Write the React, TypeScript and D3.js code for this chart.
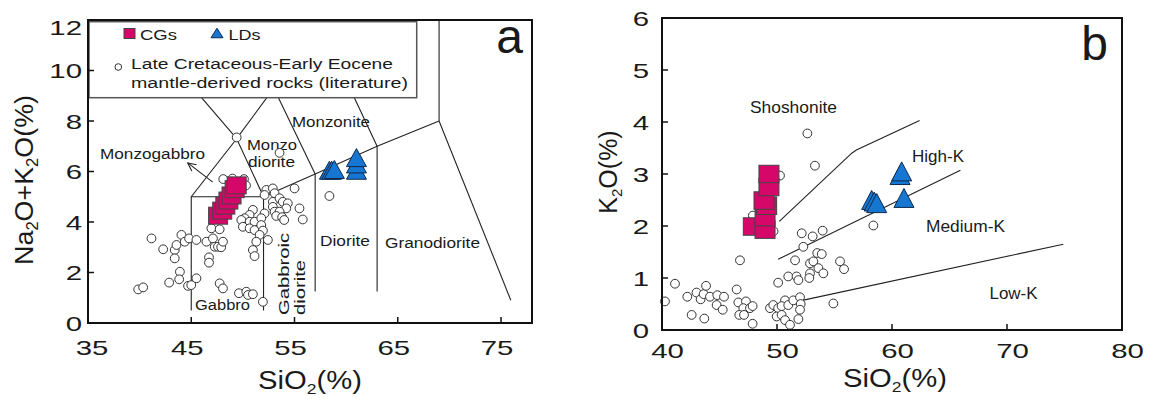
import * as d3 from 'd3';

type Pt = [number, number];

const FONT = '"Liberation Sans", Arial, Helvetica, sans-serif';
const MAGENTA = '#d5086a';
const BLUE = '#1677d2';

// ---- panel a: TAS (SiO2 vs Na2O+K2O) ----
const A_X_TICKS = [35, 45, 55, 65, 75];
const A_Y_TICKS = [0, 2, 4, 6, 8, 10, 12];

const A_LIT: Pt[] = [
  [41.15, 3.35], [42.28, 2.92], [43.4, 2.89], [43.4, 2.56], [43.57, 3.09], [44.05, 3.49],
  [44.37, 3.22], [44.79, 3.35], [45.5, 3.29], [46.47, 3.22], [47.1, 3.35], [46.95, 3.75],
  [47.75, 3.71], [47.27, 3.02], [47.59, 3.02], [47.9, 3.0], [48.07, 3.22], [46.72, 2.6],
  [46.72, 2.39], [43.9, 2.03], [43.83, 1.73], [42.86, 1.6], [44.69, 1.47], [45.0, 1.5],
  [45.5, 1.77], [39.86, 1.33], [40.34, 1.41], [47.75, 1.57], [48.07, 1.37], [49.62, 1.18],
  [50.33, 1.24], [50.5, 1.11], [50.97, 1.14], [48.1, 5.7], [49.0, 5.72], [50.1, 5.7],
  [50.3, 5.45], [53.55, 6.74], [52.27, 5.27], [52.9, 5.33], [52.1, 5.07], [53.07, 5.14],
  [55.0, 5.33], [52.9, 4.8], [53.55, 4.94], [53.87, 4.8], [54.35, 4.74], [54.2, 4.54],
  [55.48, 4.54], [55.8, 4.1], [52.9, 4.6], [53.07, 4.41], [53.55, 4.41], [53.23, 4.24],
  [53.8, 4.19], [54.0, 4.08], [52.1, 4.34], [50.97, 4.48], [50.65, 4.28], [50.17, 4.15],
  [49.85, 4.08], [50.65, 4.01], [51.13, 4.01], [51.78, 4.15], [50.0, 3.81], [50.65, 3.75],
  [51.13, 3.68], [51.78, 3.88], [51.94, 3.66], [51.62, 3.49], [52.42, 3.29], [51.3, 3.22],
  [50.97, 2.89], [51.13, 2.65], [58.38, 5.03], [51.94, 0.84], [49.4, 7.35],
];
const A_CG: Pt[] = [
  [47.6, 4.25], [48.0, 4.45], [48.3, 4.65], [48.6, 4.85], [48.9, 5.05], [49.2, 5.3], [49.4, 5.45],
];
const A_LD: Pt[] = [
  [58.38, 6.05], [58.6, 6.05], [58.86, 6.08], [61.0, 6.05], [61.0, 6.3], [61.0, 6.55],
];

const TAS_LINES: Pt[][] = [
  [[45, 0.5], [45, 5], [52, 5], [52, 0.5]],
  [[45, 5], [49.4, 7.3], [52, 5]],
  [[45, 9.4], [49.4, 7.3], [53, 9.3]],
  [[53, 9.3], [57, 5.9]],
  [[57, 1.25], [57, 5.9]],
  [[52, 5], [57, 5.9], [63, 7], [69, 8]],
  [[63, 1.25], [63, 7]],
  [[57.6, 11.7], [63, 7]],
  [[57.6, 11.7], [61, 13.5]],
  [[69, 8], [69, 12]],
  [[69, 8], [75.95, 0.9]],
];

// ---- panel b: SiO2 vs K2O ----
const B_X_TICKS = [40, 50, 60, 70, 80];
const B_Y_TICKS = [0, 1, 2, 3, 4, 5, 6];

const B_LIT: Pt[] = [
  [40.26, 0.55], [41.13, 0.89], [42.2, 0.64], [43.0, 0.72], [43.36, 0.59], [43.62, 0.69],
  [43.83, 0.85], [44.17, 0.64], [44.81, 0.67], [45.39, 0.64], [44.75, 0.48], [45.28, 0.39],
  [42.58, 0.29], [43.68, 0.22], [46.49, 0.78], [46.64, 0.53], [47.3, 0.55], [47.07, 0.42],
  [47.65, 0.42], [47.88, 0.46], [46.72, 0.29], [47.13, 0.29], [47.88, 0.12], [46.78, 1.34],
  [49.39, 0.42], [49.68, 0.48], [50.1, 0.42], [50.7, 0.57], [50.4, 0.46], [50.98, 0.48],
  [51.42, 0.57], [52.0, 0.63], [52.06, 0.5], [52.0, 0.39], [49.97, 0.26], [50.4, 0.29],
  [50.7, 0.19], [51.13, 0.1], [51.86, 0.21], [50.1, 0.91], [50.98, 1.03], [51.7, 1.03],
  [51.86, 0.96], [51.57, 1.34], [52.15, 1.86], [53.1, 1.8], [53.97, 1.91], [52.29, 1.6],
  [52.87, 1.28], [53.16, 1.32], [52.87, 1.09], [52.81, 1.0], [53.5, 1.48], [53.89, 1.46],
  [53.6, 1.19], [54.03, 1.09], [54.9, 0.51], [55.48, 1.32], [55.83, 1.17], [52.64, 3.78],
  [53.3, 3.16], [50.26, 2.97], [58.38, 2.01], [47.9, 2.2], [49.7, 1.9],
];
const B_CG: Pt[] = [
  [47.94, 1.99], [48.96, 1.93], [48.96, 2.17], [49.1, 2.39], [48.87, 2.49], [49.3, 2.75], [49.3, 3.0],
];
const B_LD: Pt[] = [
  [58.23, 2.5], [58.46, 2.47], [58.67, 2.44], [61.04, 2.54], [60.7, 2.98], [60.84, 3.05],
];

const K_LINES: Pt[][] = [
  [[50.2, 2.09], [56.5, 3.4], [56.9, 3.46], [62.4, 4.03]],
  [[50.1, 1.36], [65.95, 3.07]],
  [[52.0, 0.56], [74.9, 1.65]],
];

const xa = d3.scaleLinear().domain([35, 78]).range([88, 532]);
const ya = d3.scaleLinear().domain([0, 12]).range([323, 20]);
const xb = d3.scaleLinear().domain([40, 80]).range([662, 1122]);
const yb = d3.scaleLinear().domain([0, 6]).range([330, 18]);

function Txt(props: {
  x: number; y: number; size: number; sx?: number; rot?: number;
  anchor?: 'start' | 'middle' | 'end'; len?: number; children: React.ReactNode;
}) {
  const { x, y, size, sx = 1, rot = 0, anchor = 'start', len, children } = props;
  const tf = `translate(${x},${y})${rot ? ` rotate(${rot})` : ''}${sx !== 1 ? ` scale(${sx},1)` : ''}`;
  return (
    <text
      transform={tf} fontSize={size} fontFamily={FONT} textAnchor={anchor} fill="#1a1a1a"
      textLength={len} lengthAdjust={len ? 'spacingAndGlyphs' : undefined}
    >
      {children}
    </text>
  );
}

function Square({ cx, cy, w, h }: { cx: number; cy: number; w: number; h: number }) {
  return <rect x={cx - w / 2} y={cy - h / 2} width={w} height={h} fill={MAGENTA} stroke="#444" strokeWidth={1} />;
}

function Tri({ cx, cy, w, h }: { cx: number; cy: number; w: number; h: number }) {
  return (
    <path
      d={`M${cx},${cy - h / 2} L${cx + w / 2},${cy + h / 2} L${cx - w / 2},${cy + h / 2} Z`}
      fill={BLUE} stroke="#10284a" strokeWidth={1} strokeLinejoin="miter"
    />
  );
}

function Circ({ cx, cy, r = 4.4 }: { cx: number; cy: number; r?: number }) {
  return <circle cx={cx} cy={cy} r={r} fill="#fff" stroke="#333" strokeWidth={1} />;
}

export default function App() {
  const lineA = d3.line<Pt>().x(d => xa(d[0])).y(d => ya(d[1]));
  const lineB = d3.line<Pt>().x(d => xb(d[0])).y(d => yb(d[1]));

  // Monzogabbro arrow
  const ax1 = xa(47.08), ay1 = ya(5.58), ax2 = xa(44.66), ay2 = ya(6.34);
  const ang = Math.atan2(ay2 - ay1, ax2 - ax1);
  const head = (da: number) => [ax2 - 9 * Math.cos(ang + da), ay2 - 9 * Math.sin(ang + da)];
  const h1 = head(0.45), h2 = head(-0.45);

  return (
    <div>
      <style>{'body{margin:0}'}</style>
      <svg width={1149} height={399} style={{ display: 'block', background: '#fff' }}>
        <defs>
          <clipPath id="clipA">
            <rect x={xa(35)} y={ya(12)} width={xa(78) - xa(35)} height={ya(0) - ya(12)} />
          </clipPath>
        </defs>

        {/* ===== Panel a ===== */}
        <g clipPath="url(#clipA)">
          {TAS_LINES.map((l, i) => (
            <path key={i} d={lineA(l) ?? ''} fill="none" stroke="#222" strokeWidth={1.1} />
          ))}
        </g>

        {/* legend box covers the upper field lines */}
        <rect x={89} y={21.7} width={327.7} height={76} fill="#fff" stroke="#555" strokeWidth={1.5} />
        <Square cx={129.5} cy={33.5} w={11} h={10} />
        <Txt x={140} y={39.5} size={15.5} len={37}>CGs</Txt>
        <Tri cx={217} cy={33} w={12} h={9.5} />
        <Txt x={228.5} y={39.5} size={15.5} len={32}>LDs</Txt>
        <Circ cx={118.3} cy={67} r={3.3} />
        <Txt x={131} y={68.5} size={15.5} len={262}>Late Cretaceous-Early Eocene</Txt>
        <Txt x={131} y={87.5} size={15.5} len={277}>mantle-derived rocks (literature)</Txt>

        {/* field labels */}
        <Txt x={100} y={158.5} size={15.5} len={105}>Monzogabbro</Txt>
        <Txt x={247} y={150} size={15.5} len={50}>Monzo</Txt>
        <Txt x={248} y={166.7} size={15.5} len={47}>diorite</Txt>
        <Txt x={292} y={126.7} size={15.5} len={78}>Monzonite</Txt>
        <Txt x={320} y={245.7} size={15.5} len={50}>Diorite</Txt>
        <Txt x={385} y={248.3} size={15.5} len={95}>Granodiorite</Txt>
        <Txt x={195} y={310} size={15.5} len={55}>Gabbro</Txt>
        <Txt x={288.5} y={315} size={15.5} rot={-90} len={82}>Gabbroic</Txt>
        <Txt x={305} y={315} size={15.5} rot={-90} len={55}>diorite</Txt>

        <line x1={ax1} y1={ay1} x2={ax2} y2={ay2} stroke="#222" strokeWidth={1.1} />
        <polyline points={`${h1[0]},${h1[1]} ${ax2},${ay2} ${h2[0]},${h2[1]}`} fill="none" stroke="#222" strokeWidth={1.1} />

        {A_LIT.map((d, i) => <Circ key={i} cx={xa(d[0])} cy={ya(d[1])} />)}
        {A_CG.map((d, i) => <Square key={i} cx={xa(d[0])} cy={ya(d[1])} w={19} h={17} />)}
        {A_LD.map((d, i) => <Tri key={i} cx={xa(d[0])} cy={ya(d[1])} w={20} h={18} />)}

        {/* frame + ticks */}
        <rect x={xa(35)} y={ya(12)} width={xa(78) - xa(35)} height={ya(0) - ya(12)} fill="none" stroke="#111" strokeWidth={2} />
        {A_X_TICKS.map(t => (
          <line key={t} x1={xa(t)} x2={xa(t)} y1={ya(0)} y2={ya(0) - 6} stroke="#111" strokeWidth={1.5} />
        ))}
        {A_Y_TICKS.map(t => (
          <line key={t} x1={xa(35)} x2={xa(35) + 6} y1={ya(t)} y2={ya(t)} stroke="#111" strokeWidth={1.5} />
        ))}
        {A_X_TICKS.map(t => (
          <Txt key={t} x={xa(t) + (t === 35 ? 4 : -4)} y={355} size={21} sx={1.4} anchor="middle">{t}</Txt>
        ))}
        {A_Y_TICKS.map(t => (
          <Txt key={t} x={82} y={ya(t) + 7.5 + (t === 12 ? 7.5 : 0)} size={21} sx={1.4} anchor="end">{t}</Txt>
        ))}
        <Txt x={523} y={53} size={48} anchor="end">a</Txt>

        <Txt x={310} y={389} size={25} sx={1.17} anchor="middle">
          SiO<tspan fontSize={15} dy={5}>2</tspan><tspan dy={-5}>(%)</tspan>
        </Txt>
        <Txt x={33} y={180} size={26} rot={-90} anchor="middle" len={170}>
          Na<tspan fontSize={16} dy={5}>2</tspan><tspan dy={-5}>O+K</tspan><tspan fontSize={16} dy={5}>2</tspan><tspan dy={-5}>O(%)</tspan>
        </Txt>

        {/* ===== Panel b ===== */}
        {K_LINES.map((l, i) => (
          <path key={i} d={lineB(l) ?? ''} fill="none" stroke="#222" strokeWidth={1.1} />
        ))}
        <Txt x={750} y={113.3} size={16.5} len={87}>Shoshonite</Txt>
        <Txt x={912} y={161.7} size={16.5} len={52}>High-K</Txt>
        <Txt x={926} y={231.7} size={16.5} len={79}>Medium-K</Txt>
        <Txt x={989.5} y={299} size={16.5} len={48}>Low-K</Txt>

        {B_LIT.map((d, i) => <Circ key={i} cx={xb(d[0])} cy={yb(d[1])} />)}
        {B_CG.map((d, i) => <Square key={i} cx={xb(d[0])} cy={yb(d[1])} w={20} h={17.5} />)}
        {B_LD.map((d, i) => <Tri key={i} cx={xb(d[0])} cy={yb(d[1])} w={20} h={19} />)}

        <rect x={xb(40)} y={yb(6)} width={xb(80) - xb(40)} height={yb(0) - yb(6)} fill="none" stroke="#111" strokeWidth={2} />
        {B_X_TICKS.map(t => (
          <line key={t} x1={xb(t)} x2={xb(t)} y1={yb(0)} y2={yb(0) - 6} stroke="#111" strokeWidth={1.5} />
        ))}
        {B_Y_TICKS.map(t => (
          <line key={t} x1={xb(40)} x2={xb(40) + 6} y1={yb(t)} y2={yb(t)} stroke="#111" strokeWidth={1.5} />
        ))}
        {B_X_TICKS.map(t => (
          <Txt key={t} x={xb(t) + 5.5} y={358} size={21} sx={1.4} anchor="middle">{t}</Txt>
        ))}
        {B_Y_TICKS.map(t => (
          <Txt key={t} x={649} y={yb(t) + 7.5} size={21} sx={1.4} anchor="end">{t}</Txt>
        ))}
        <Txt x={1108} y={60} size={48} anchor="end">b</Txt>

        <Txt x={895} y={387} size={25} sx={1.17} anchor="middle">
          SiO<tspan fontSize={15} dy={5}>2</tspan><tspan dy={-5}>(%)</tspan>
        </Txt>
        <Txt x={617} y={172} size={25} rot={-90} anchor="middle">
          K<tspan fontSize={15} dy={5}>2</tspan><tspan dy={-5}>O(%)</tspan>
        </Txt>
      </svg>
    </div>
  );
}
